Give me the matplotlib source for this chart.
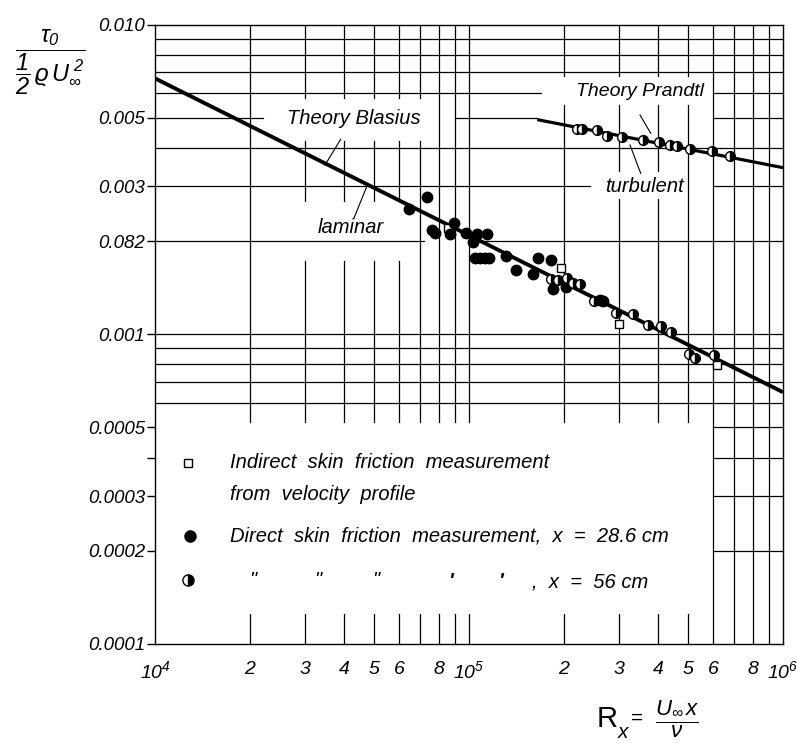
import matplotlib
matplotlib.use("Agg")
import matplotlib.pyplot as plt
from matplotlib import font_manager
from matplotlib.ticker import NullLocator

# --- data --------------------------------------------------------------
rx_blasius = [1e4, 1e6]
cf_blasius = [0.0067, 0.00065]

rx_prandtl = [1.65e5, 1e6]
cf_prandtl = [0.00493, 0.00345]

# indirect measurement (open squares)
rx_indirect = [8.55e4, 1.96e5, 3.01e5, 6.18e5]
cf_indirect = [0.00220, 0.00164, 0.00108, 0.000797]

# direct measurement, x = 28.6 cm (filled circles)
rx_direct_286 = [6.44e4, 7.33e4, 7.61e4, 7.79e4, 8.70e4, 8.96e4, 9.78e4, 1.032e5,
                 1.045e5, 1.058e5, 1.084e5, 1.124e5, 1.138e5, 1.160e5, 1.311e5,
                 1.411e5, 1.596e5, 1.659e5, 1.829e5, 1.856e5, 2.037e5, 2.614e5, 2.666e5]
cf_direct_286 = [0.00253, 0.00277, 0.00217, 0.00213, 0.00211, 0.00228, 0.00212, 0.00198,
                 0.00176, 0.00210, 0.00176, 0.00176, 0.00211, 0.00176, 0.00179,
                 0.00161, 0.00157, 0.00176, 0.00174, 0.00140, 0.00142, 0.00129, 0.00128]

# direct measurement, x = 56 cm (half filled circles), laminar and turbulent
rx_direct_56 = [1.82e5, 1.924e5, 2.047e5, 2.149e5, 2.257e5, 2.50e5, 2.94e5, 3.32e5,
                3.72e5, 4.08e5, 4.40e5, 5.03e5, 5.25e5, 6.03e5,
                2.208e5, 2.285e5, 2.55e5, 2.756e5, 3.064e5, 3.59e5, 4.02e5,
                4.36e5, 4.59e5, 5.06e5, 5.94e5, 6.80e5]
cf_direct_56 = [0.00151, 0.00150, 0.00152, 0.00146, 0.00145, 0.00128, 0.00117, 0.00116,
                0.00107, 0.00106, 0.00102, 0.000863, 0.000841, 0.000859,
                0.00460, 0.00460, 0.00457, 0.00438, 0.00432, 0.00424, 0.00419,
                0.00409, 0.00406, 0.00397, 0.00390, 0.00377]

yticks = [0.01, 0.005, 0.003, 0.002, 0.001, 0.0005, 0.0004, 0.0003, 0.0002, 0.0001]
ytick_labels = ["0.010", "0.005", "0.003", "0.082", "0.001", "0.0005", "", "0.0003", "0.0002", "0.0001"]
xticks = [1e4, 2e4, 3e4, 4e4, 5e4, 6e4, 8e4, 1e5, 2e5, 3e5, 4e5, 5e5, 6e5, 8e5, 1e6]
xtick_labels = [r"$10^4$", "2", "3", "4", "5", "6", "8", r"$10^5$",
                "2", "3", "4", "5", "6", "8", r"$10^6$"]

# --- fonts ---------------------------------------------------------------
names = {f.name for f in font_manager.fontManager.ttflist}
narrow = "Liberation Sans Narrow" if "Liberation Sans Narrow" in names else "Liberation Sans"
plt.rcParams["font.family"] = [narrow, "DejaVu Sans"]
plt.rcParams["font.style"] = "italic"
plt.rcParams["mathtext.fontset"] = "custom"
plt.rcParams["mathtext.rm"] = narrow + ":italic"
plt.rcParams["mathtext.it"] = narrow + ":italic"
plt.rcParams["mathtext.sf"] = narrow + ":italic"

W, H = 798, 749


def fpx(px, py):
    # picture pixels -> figure fraction
    return px / W, 1 - py / H


fig = plt.figure(figsize=(W / 100, H / 100), dpi=100)
ax = fig.add_axes([155 / W, 1 - 644 / H, (783 - 155) / W, (644 - 24.5) / H])
ax.set_xscale("log")
ax.set_yscale("log")
ax.set_xlim(1e4, 1e6)
ax.set_ylim(1e-4, 1e-2)

# --- hand drawn grid, with the gaps the draftsman left -------------------
lw_grid = 0.9
minor_x = [k * 1e4 for k in range(2, 10)] + [k * 1e5 for k in range(1, 10)]
vgaps = {}
for xv in [3e4, 4e4, 5e4, 6e4, 7e4]:
    vgaps.setdefault(xv, []).append((4.22e-3, 5.77e-3))
for xv in [3e4, 4e4, 5e4, 6e4]:
    vgaps.setdefault(xv, []).append((1.73e-3, 2.70e-3))
for xv in [2e5, 3e5, 4e5, 5e5]:
    vgaps.setdefault(xv, []).append((5.51e-3, 6.84e-3))
for xv in [3e5, 4e5]:
    vgaps.setdefault(xv, []).append((2.74e-3, 3.37e-3))

for xv in minor_x:
    if xv >= 5.9e5:
        spans = [(1e-4, 1e-2)]
    else:
        spans = [(1e-4, 1.25e-4), (5.2e-4, 1e-2)]
    for lo, hi in sorted(vgaps.get(xv, [])):
        new = []
        for a, b in spans:
            if lo > a and hi < b:
                new += [(a, lo), (hi, b)]
            else:
                new.append((a, b))
        spans = new
    for a, b in spans:
        ax.plot([xv, xv], [a, b], color="black", lw=lw_grid, zorder=1)

hsegs = {
    0.009: [(1e4, 1e6)], 0.008: [(1e4, 1e6)], 0.007: [(1e4, 1e6)],
    0.006: [(1e4, 1.7e5), (6e5, 1e6)],
    0.005: [(1e4, 2.2e4), (9e4, 1.65e5), (6e5, 1e6)],
    0.004: [(1e4, 1e6)],
    0.003: [(1e4, 2.43e5), (6e5, 1e6)],
    0.002: [(1e4, 7.2e4), (1e5, 1e6)],
    0.0009: [(1e4, 1e6)], 0.0008: [(1e4, 1e6)], 0.0007: [(1e4, 1e6)], 0.0006: [(1e4, 1e6)],
    0.001: [(1e4, 1e6)],
    0.0005: [(6e5, 1e6)], 0.0004: [(6e5, 1e6)], 0.0003: [(6e5, 1e6)], 0.0002: [(6e5, 1e6)],
}
for yv, segs in hsegs.items():
    for a, b in segs:
        ax.plot([a, b], [yv, yv], color="black", lw=lw_grid, zorder=1)

for s in ax.spines.values():
    s.set_linewidth(1.0)
    s.set_color("black")

# --- theory curves and measurements -------------------------------------
ax.plot(rx_blasius, cf_blasius, color="black", lw=2.8, zorder=3, solid_capstyle="butt")
ax.plot(rx_prandtl, cf_prandtl, color="black", lw=2.3, zorder=3, solid_capstyle="butt")

ax.plot(rx_indirect, cf_indirect, ls="none", marker="s", ms=5.5, mfc="white",
        mec="black", mew=1.0, zorder=4)
ax.plot(rx_direct_286, cf_direct_286, ls="none", marker="o", ms=7.5, mfc="black",
        mec="black", zorder=4)
ax.plot(rx_direct_56, cf_direct_56, ls="none", marker="o", ms=7, fillstyle="right",
        mfc="black", markerfacecoloralt="white", mec="black", mew=1.0, zorder=4)

# --- ticks ---------------------------------------------------------------
ax.yaxis.set_minor_locator(NullLocator())
ax.xaxis.set_minor_locator(NullLocator())
ax.set_yticks(yticks, labels=ytick_labels)
ax.set_xticks(xticks, labels=xtick_labels)
ax.tick_params(axis="y", length=6, width=1.0, pad=1, labelsize=13.5)
ax.tick_params(axis="x", length=0, pad=12, labelsize=14)

# --- labels on the chart --------------------------------------------------
fs = 14.5
fig.text(*fpx(287, 118), "Theory Blasius", fontsize=fs, va="center", ha="left")
fig.text(*fpx(318, 227), "laminar", fontsize=fs, va="center", ha="left")
fig.text(*fpx(576, 92), "Theory Prandtl", fontsize=14, va="center", ha="left")
fig.text(*fpx(605, 186), "turbulent", fontsize=fs, va="center", ha="left")

leaders = [((340.7, 139.3), (325, 165)), ((366.7, 186.7), (354, 218)),
           ((640, 115), (650.7, 133.3)), ((630, 145), (640.7, 173.3))]
for (x0, y0), (x1, y1) in leaders:
    a = fpx(x0, y0)
    b = fpx(x1, y1)
    fig.add_artist(plt.Line2D([a[0], b[0]], [a[1], b[1]], color="black", lw=0.8))

# axis titles
fig.text(*fpx(50, 62), r"$\dfrac{\tau_0}{\dfrac{1}{2}\,\varrho\, U_{\infty}^{\;2}}$",
         fontsize=17, ha="center", va="center")
fig.text(*fpx(597, 727), "R", fontsize=21, fontstyle="normal", ha="left", va="baseline")
fig.text(*fpx(618, 738), "x", fontsize=15, ha="left", va="baseline")
fig.text(*fpx(631, 718), "=", fontsize=15, fontstyle="normal", ha="left", va="center")
fig.text(*fpx(677, 719), r"$\dfrac{U_{\infty}\, x}{\nu}$", fontsize=16, ha="center", va="center")

# --- legend drawn by hand --------------------------------------------------
leg = fig.add_axes([0, 0, 1, 1], facecolor="none")
leg.set_xlim(0, W)
leg.set_ylim(H, 0)
leg.axis("off")
leg.plot([188], [463], ls="none", marker="s", ms=6, mfc="white", mec="black", mew=1.0)
leg.plot([190], [536], ls="none", marker="o", ms=8, mfc="black", mec="black")
leg.plot([188], [580], ls="none", marker="o", ms=8, fillstyle="right", mfc="black",
         markerfacecoloralt="white", mec="black", mew=1.0)
leg.text(230, 463, "Indirect  skin  friction  measurement", fontsize=fs, va="center")
leg.text(230, 494, "from  velocity  profile", fontsize=fs, va="center")
leg.text(230, 536, "Direct  skin  friction  measurement,  x  =  28.6 cm", fontsize=fs, va="center")
for xd in [253, 318, 376]:
    leg.text(xd, 580, '"', fontsize=fs, va="center", ha="center")
for xd in [450, 500]:
    leg.text(xd, 582, "'", fontsize=fs, fontweight="bold", va="center", ha="center")
leg.text(532, 582, ",  x  =  56 cm", fontsize=fs, va="center")

fig.savefig("out.png", dpi=100)
